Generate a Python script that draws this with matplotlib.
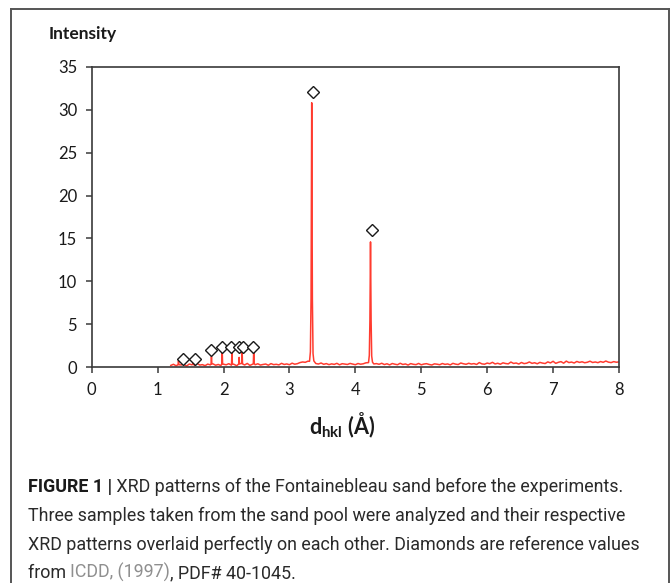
import numpy as np
import matplotlib
matplotlib.use('Agg')
import matplotlib.pyplot as plt
from matplotlib import font_manager as fm
from matplotlib.lines import Line2D

plt.rcParams['font.family'] = ['Lato', 'DejaVu Sans']
plt.rcParams['mathtext.fontset'] = 'custom'
plt.rcParams['mathtext.rm'] = 'Lato'
plt.rcParams['mathtext.bf'] = 'Lato:bold'
plt.rcParams['mathtext.it'] = 'Lato:italic'

# ---------------- data ----------------
# background of the XRD trace, sampled from d = 1.20 to 8.00 in steps of 0.04 Å
base_start = 1.20
base_step = 0.04
base_intensity = [
    0.22, 0.35, 0.18, 0.41, 0.27, 0.33, 0.15, 0.38, 0.29, 0.21, 0.44, 0.26, 0.31, 0.19, 0.37, 0.28, 0.40, 0.24, 0.33, 0.20, 0.36,
    0.29, 0.42, 0.25, 0.34, 0.18, 0.39, 0.31, 0.27, 0.45, 0.22, 0.36, 0.30, 0.41, 0.26, 0.33, 0.38, 0.24, 0.43, 0.31, 0.35,
    0.28, 0.46, 0.33, 0.39, 0.30, 0.48, 0.36, 0.42, 0.55, 0.62, 0.58, 0.71, 0.52, 0.47, 0.44, 0.38, 0.50, 0.35, 0.43, 0.31,
    0.40, 0.34, 0.46, 0.29, 0.42, 0.37, 0.33, 0.45, 0.38, 0.30, 0.44, 0.36, 0.41, 0.52, 0.60, 0.48, 0.39, 0.43, 0.35, 0.47,
    0.32, 0.41, 0.28, 0.44, 0.36, 0.30, 0.47, 0.33, 0.39, 0.26, 0.43, 0.35, 0.31, 0.45, 0.29, 0.38, 0.42, 0.33, 0.27, 0.40,
    0.36, 0.30, 0.44, 0.34, 0.39, 0.28, 0.46, 0.37, 0.32, 0.50, 0.41, 0.35, 0.47, 0.38, 0.43, 0.33, 0.55, 0.40, 0.36, 0.49,
    0.42, 0.58, 0.39, 0.47, 0.36, 0.52, 0.44, 0.40, 0.61, 0.45, 0.50, 0.38, 0.56, 0.43, 0.48, 0.62, 0.46, 0.53, 0.41, 0.57,
    0.49, 0.44, 0.63, 0.51, 0.70, 0.46, 0.58, 0.66, 0.48, 0.72, 0.55, 0.61, 0.50, 0.68, 0.57, 0.64, 0.53, 0.59, 0.71, 0.56,
    0.62, 0.54, 0.67, 0.58, 0.73, 0.60, 0.55, 0.66, 0.59, 0.63,
]

# diffraction peaks of the measured trace (d in Å, intensity)
peak_d = [1.310, 1.317, 1.324,
          1.376, 1.382, 1.388,
          1.535, 1.541, 1.547,
          1.811, 1.817, 1.823,
          1.974, 1.980, 1.986,
          2.122, 2.128, 2.134,
          2.232, 2.237, 2.242,
          2.276, 2.282, 2.288,
          2.452, 2.458, 2.464,
          3.305, 3.318, 3.328, 3.338, 3.348, 3.358, 3.370,
          4.200, 4.212, 4.221, 4.230, 4.239, 4.248, 4.260]
peak_i = [0.30, 0.75, 0.30,
          0.35, 0.70, 0.30,
          0.35, 0.85, 0.35,
          0.40, 1.25, 0.40,
          0.40, 1.85, 0.40,
          0.45, 1.95, 0.40,
          0.40, 1.15, 0.40,
          0.45, 1.95, 0.40,
          0.40, 1.95, 0.45,
          0.70, 1.80, 8.00, 30.8, 8.00, 1.60, 0.75,
          0.55, 1.40, 5.50, 14.6, 5.50, 1.30, 0.60]
peak_windows = [(1.310, 1.324), (1.376, 1.388), (1.535, 1.547), (1.811, 1.823), (1.974, 1.986),
                (2.122, 2.134), (2.232, 2.242), (2.276, 2.288), (2.452, 2.464), (3.305, 3.370), (4.200, 4.260)]

# reference values (ICDD PDF# 40-1045), diamonds
ref_d = [1.38, 1.57, 1.81, 1.98, 2.12, 2.24, 2.29, 2.45, 3.35, 4.26]
ref_i = [1.0, 1.0, 2.0, 2.4, 2.4, 2.4, 2.4, 2.4, 32.0, 16.0]

x_ticks = [0, 1, 2, 3, 4, 5, 6, 7, 8]
y_ticks = [0, 5, 10, 15, 20, 25, 30, 35]

caption_bold = 'FIGURE 1 |'
caption_line1 = ' XRD patterns of the Fontainebleau sand before the experiments.'
caption_line2 = 'Three samples taken from the sand pool were analyzed and their respective'
caption_line3 = 'XRD patterns overlaid perfectly on each other. Diamonds are reference values'
caption_line4a = 'from '
caption_line4b = 'ICDD, (1997)'
caption_line4c = ', PDF# 40-1045.'

# ---------------- build trace ----------------
base_i = np.array(base_intensity)
base_d = base_start + base_step * np.arange(len(base_i))
keep = np.ones(len(base_d), dtype=bool)
for lo, hi in peak_windows:
    keep &= ~((base_d >= lo) & (base_d <= hi))
all_d = np.concatenate([base_d[keep], np.array(peak_d)])
all_i = np.concatenate([base_i[keep], np.array(peak_i)])
order = np.argsort(all_d)
all_d = all_d[order]
all_i = all_i[order]

# ---------------- figure ----------------
W, H = 670, 583
fig = plt.figure(figsize=(W / 100, H / 100), dpi=100)
fig.patch.set_facecolor('white')

x0, x1 = 91.7, 619.0
y0, y1 = 66.7, 367.3
ax = fig.add_axes([x0 / W, 1 - y1 / H, (x1 - x0) / W, (y1 - y0) / H])

ax.plot(all_d, all_i, color='#ff3b2f', lw=1.1, zorder=2)
ax.plot(ref_d, ref_i, linestyle='none', marker='D', ms=6.2, mfc='white',
        mec='#1a1a1a', mew=1.0, zorder=3)

ax.set_xlim(0, 8)
ax.set_ylim(0, 35)
ax.set_xticks(x_ticks)
ax.set_yticks(y_ticks)
ax.set_xticklabels([str(v) for v in x_ticks])
ax.set_yticklabels([str(v) for v in y_ticks])
for s in ax.spines.values():
    s.set_color('#3a3a3a')
    s.set_linewidth(1.2)
ax.tick_params(axis='both', direction='out', length=4, width=1.1, color='#3a3a3a',
               labelsize=12, labelcolor='#1a1a1a', pad=6.5)

fig.text(49 / W, 1 - 34 / H, 'Intensity', fontsize=12.5, weight='bold',
         va='center', ha='left', color='#1a1a1a')
fig.text(342 / W, 1 - 425 / H, r'$\mathbf{d}_{\mathbf{hkl}}$ (Å)', fontsize=15.5,
         weight='bold', va='center', ha='center', color='#1a1a1a')

# border around the figure panel
bc = '#555555'
fig.add_artist(Line2D([11 / W, 11 / W], [0, 1 - 9 / H], transform=fig.transFigure, color=bc, lw=1.4))
fig.add_artist(Line2D([11 / W, 669 / W], [1 - 9 / H, 1 - 9 / H], transform=fig.transFigure, color=bc, lw=1.4))
fig.add_artist(Line2D([669 / W, 669 / W], [0, 1 - 9 / H], transform=fig.transFigure, color=bc, lw=1.4))

# ---------------- caption ----------------
def has_font(name):
    try:
        fm.findfont(fm.FontProperties(family=name), fallback_to_default=False)
        return True
    except Exception:
        return False

cap_font = 'Liberation Sans Narrow' if has_font('Liberation Sans Narrow') else 'Roboto'
fig.canvas.draw()
renderer = fig.canvas.get_renderer()

probe = fig.text(0, 0, caption_line3, fontsize=10, family=cap_font)
wprobe = probe.get_window_extent(renderer).width
probe.remove()
cap_size = 10 * 615.0 / wprobe
cap_color = '#2a2a2a'
link_color = '#8f8f8f'

def put(xpx, ypx, s, **kw):
    t = fig.text(xpx / W, 1 - ypx / H, s, va='baseline', ha='left',
                 fontsize=cap_size, family=cap_font, **kw)
    return t.get_window_extent(renderer).x1

xl = 28
yb = [492, 521, 550, 578]
xe = put(xl, yb[0], caption_bold, weight='bold', color='#1a1a1a')
put(xe, yb[0], caption_line1, color=cap_color)
put(xl, yb[1], caption_line2, color=cap_color)
put(xl, yb[2], caption_line3, color=cap_color)
xe = put(xl, yb[3], caption_line4a, color=cap_color)
xe = put(xe, yb[3], caption_line4b, color=link_color)
put(xe, yb[3], caption_line4c, color=cap_color)

fig.savefig('out.png', dpi=100, facecolor='white')
